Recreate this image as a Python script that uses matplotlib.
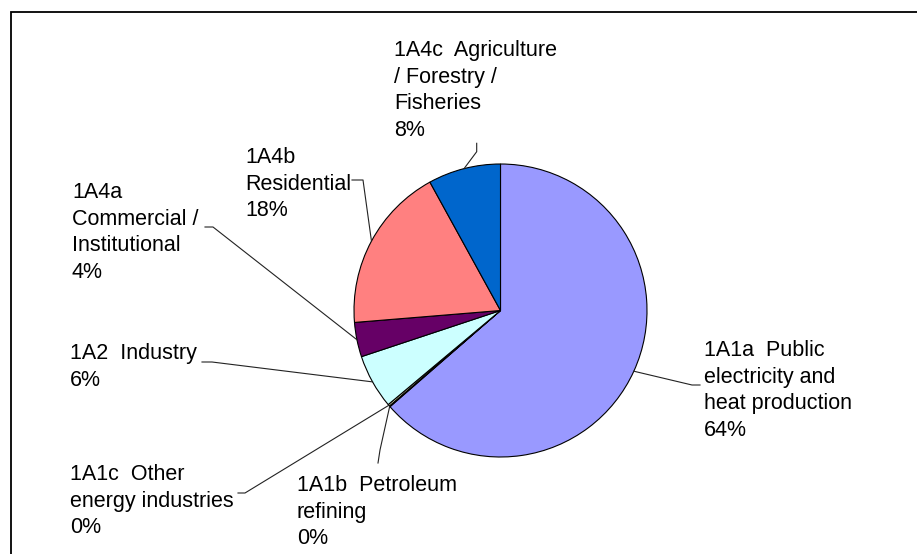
import matplotlib.pyplot as plt
import numpy as np

W, H = 917, 554

# source categories and their share of emissions (%)
codes = ["1A1a", "1A1b", "1A1c", "1A2", "1A4a", "1A4b", "1A4c"]
names = ["Public\nelectricity and\nheat production", "Petroleum\nrefining",
         "Other\nenergy industries", "Industry", "\nCommercial /\nInstitutional",
         "\nResidential", "Agriculture\n/ Forestry /\nFisheries"]
shares = [63.6, 0.1, 0.2, 6.0, 3.8, 18.3, 8.0]
colors = ["#9999FF", "#993366", "#FFFFCC", "#CCFFFF", "#660066", "#FF8080", "#0066CC"]

# label corner (left, top) and leader line bend points, in pixels from top-left
label_xy = [(704, 340), (297, 475), (70, 464), (70, 343), (72, 182), (245, 147), (394, 40)]
leader_pts = [
    [(692, 385), (700, 385)],
    [(380, 450), (378, 463)],
    [(245, 493), (238, 493)],
    [(212, 362), (202, 362)],
    [(213, 227), (205, 227)],
    [(363, 180), (352, 180)],
    [(476.7, 151.7), (476.7, 143.3)],
]

cx, cy, r = 500.5, 310.5, 146.5


def px(x, y):
    return x, H - y


plt.rcParams['font.family'] = ['Liberation Sans', 'DejaVu Sans']

fig = plt.figure(figsize=(W / 100, H / 100), dpi=100)
ax = fig.add_axes([0, 0, 1, 1])

ax.pie(shares, colors=colors, startangle=90, counterclock=False,
       center=px(cx, cy), radius=r, frame=True,
       wedgeprops=dict(edgecolor='black', linewidth=0.8))
ax.set_xlim(0, W)
ax.set_ylim(0, H)
ax.set_aspect('equal')
ax.axis('off')

# outer chart border (runs off the right and bottom)
ax.plot([11, 11, W + 5], [-5, H - 12, H - 12], color='black', lw=1.3,
        clip_on=False, solid_joinstyle='miter')

cum = np.cumsum([0] + shares[:-1])
for i, code in enumerate(codes):
    mid = (cum[i] + shares[i] / 2) / 100 * 2 * np.pi
    ex = cx + r * np.sin(mid)
    ey = cy - r * np.cos(mid)
    pts = [(ex, ey)] + leader_pts[i]
    xs = [p[0] for p in pts]
    ys = [H - p[1] for p in pts]
    ax.plot(xs, ys, color='#222222', lw=0.8)

    if names[i].startswith("\n"):
        txt = code + names[i]
    else:
        txt = f"{code}  {names[i]}"
    txt += f"\n{shares[i]:.0f}%"
    lx, ly = label_xy[i]
    ax.text(*px(lx, ly), txt, fontsize=15.5, ha='left', va='top',
            linespacing=1.35, color='black')

fig.savefig("out.png", dpi=100)
